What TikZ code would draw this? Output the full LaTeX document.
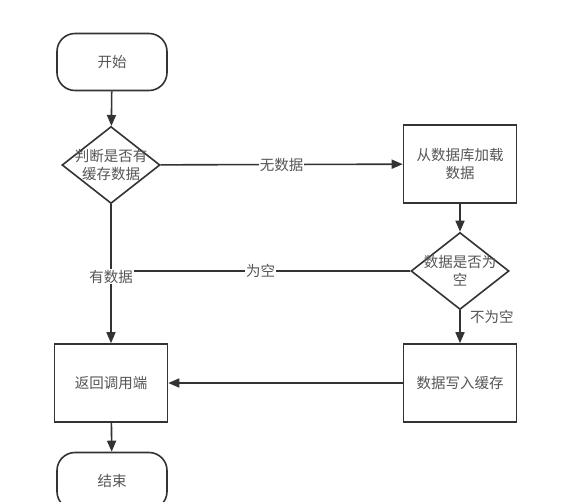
\documentclass[tikz,border=0pt]{standalone}
\usepackage{fontspec}
\newfontfamily\cjk{Noto Sans CJK SC}
\usetikzlibrary{arrows.meta, shapes.geometric}
\definecolor{linegray}{HTML}{333333}
\definecolor{txtgray}{HTML}{555555}

\begin{document}
\begin{tikzpicture}[x=1pt, y=-1pt,
        every node/.style={font=\cjk\fontsize{14.5}{18}\selectfont, text=txtgray},
        terminal/.style={draw=linegray, line width=1.6pt, rounded corners=18pt, minimum width=110pt, minimum height=57pt},
        procbox/.style={draw=linegray, line width=1.6pt, minimum width=113pt, minimum height=78pt, align=center},
        decision/.style={draw=linegray, line width=1.6pt, diamond, inner sep=0pt, minimum width=98pt, minimum height=77pt},
        link/.style={draw=linegray, line width=1.6pt},
        flow/.style={link, -{Triangle[length=11pt, width=9pt]}},
        edgelabel/.style={fill=white, inner sep=1pt}]
                        \clip (0,0) rectangle (588,501);
                        \fill[white] (0,0) rectangle (588,501);
                        % left column
                        \node[terminal] (start) at (112,62) {开始};
                        \node[decision, label={[align=center]center:判断是否有\\缓存数据}] (cache) at (111,165) {};
                        \node[procbox] (ret) at (111,383) {返回调用端};
                        \node[terminal] (stop) at (112,481) {结束};
                        % right column
                        \node[procbox] (load) at (460,164) {从数据库加载\\数据};
                        \node[decision, label={[align=center]center:数据是否为\\空}] (empty) at (460,271) {};
                        \node[procbox] (write) at (460,383) {数据写入缓存};
                        % connectors
                        \draw[flow] (start) -- (cache);
                        \draw[flow] (cache) -- node[edgelabel] {无数据} (load);
                        \draw[flow] (load) -- (empty);
                        \draw[link] (empty.west) -- node[edgelabel] {为空} (empty.west -| cache.south);
                        \draw[flow] (cache) -- node[edgelabel, pos=.52] {有数据} (ret);
                        \draw[flow] (empty) -- node[right, pos=.2, xshift=6pt] {不为空} (write);
                        \draw[flow] (write) -- (ret);
                        \draw[flow] (ret) -- (stop);
\end{tikzpicture}
\end{document}
